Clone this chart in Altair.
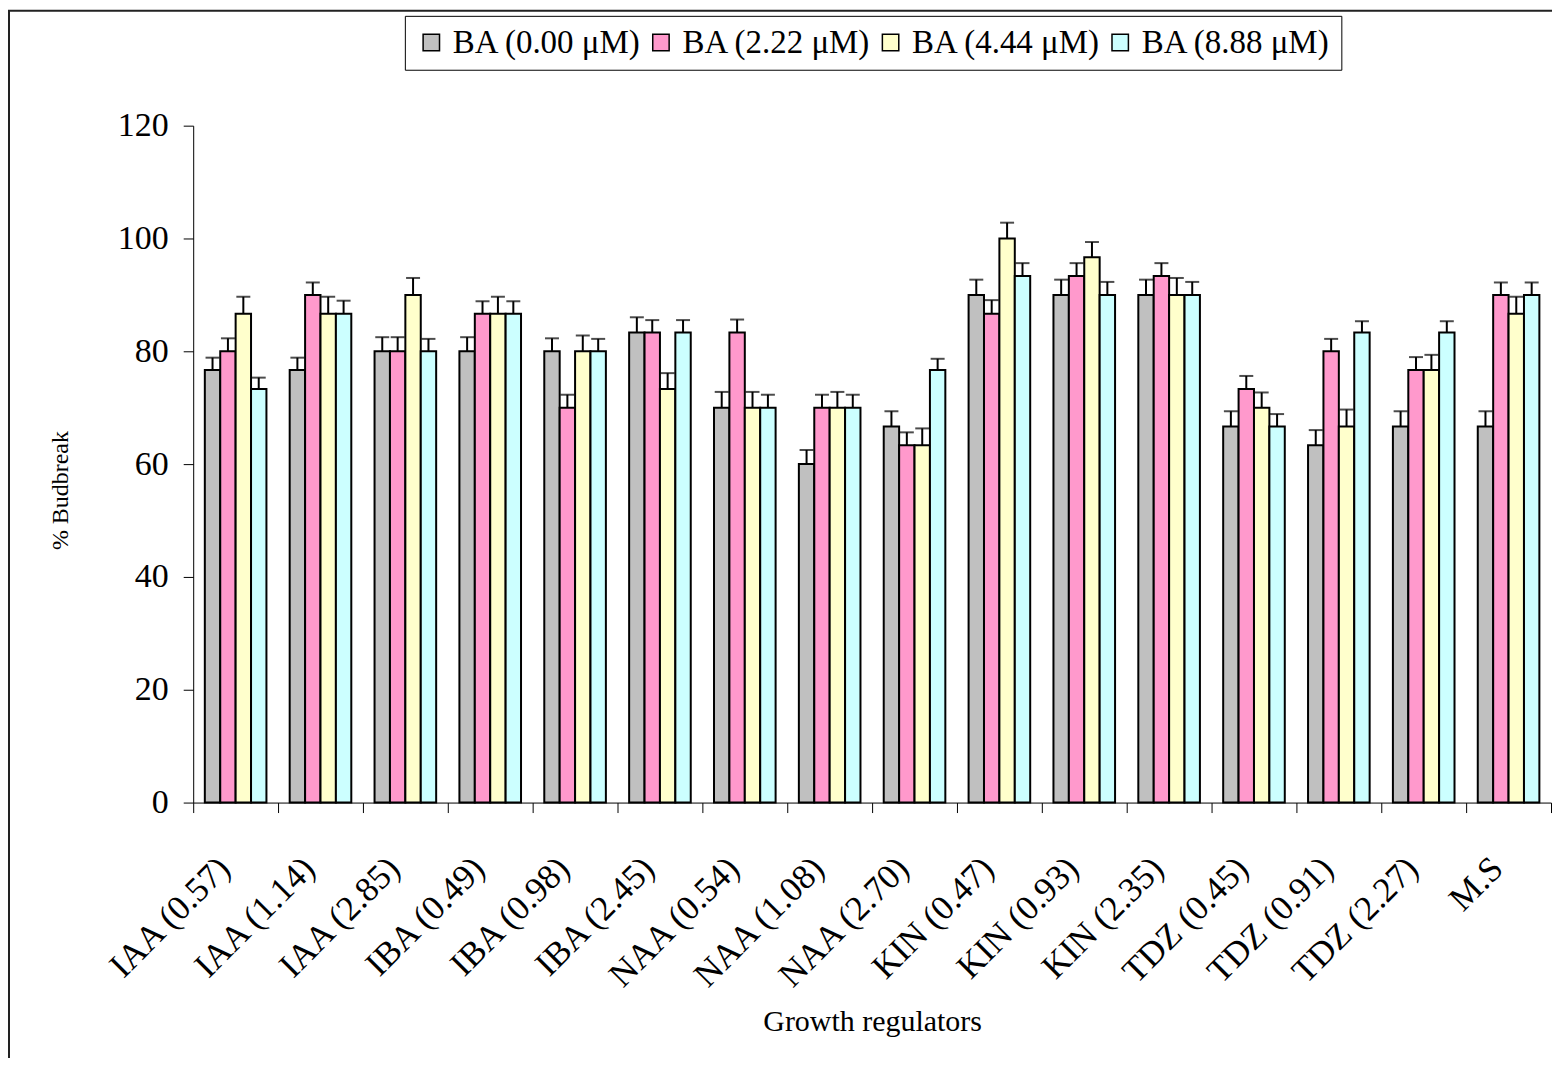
import altair as alt
import pandas as pd

categories = ["IAA (0.57)", "IAA (1.14)", "IAA (2.85)", "IBA (0.49)", "IBA (0.98)",
              "IBA (2.45)", "NAA (0.54)", "NAA (1.08)", "NAA (2.70)", "KIN (0.47)",
              "KIN (0.93)", "KIN (2.35)", "TDZ (0.45)", "TDZ (0.91)", "TDZ (2.27)", "M.S"]
series = ["BA (0.00 μM)", "BA (2.22 μM)", "BA (4.44 μM)", "BA (8.88 μM)"]

ba_000 = [76.67, 76.67, 80, 80, 80, 83.33, 70, 60, 66.67, 90, 90, 90, 66.67, 63.33, 66.67, 66.67]
ba_000_err = [2.2, 2.2, 2.5, 2.5, 2.3, 2.7, 2.8, 2.5, 2.7, 2.7, 2.7, 2.7, 2.7, 2.7, 2.7, 2.7]
ba_222 = [80, 90, 80, 86.67, 70, 83.33, 83.33, 70, 63.33, 86.67, 93.33, 93.33, 73.33, 80, 76.67, 90]
ba_222_err = [2.3, 2.2, 2.5, 2.2, 2.3, 2.2, 2.3, 2.3, 2.3, 2.4, 2.3, 2.3, 2.3, 2.2, 2.3, 2.2]
ba_444 = [86.67, 86.67, 90, 86.67, 80, 73.33, 70, 70, 63.33, 100, 96.67, 90, 70, 66.67, 76.67, 86.67]
ba_444_err = [3.0, 3.0, 3.0, 3.0, 2.8, 2.8, 2.8, 2.8, 3.0, 2.8, 2.7, 3.0, 2.7, 3.0, 2.7, 3.0]
ba_888 = [73.33, 86.67, 80, 86.67, 80, 83.33, 70, 70, 76.67, 93.33, 90, 90, 66.67, 83.33, 83.33, 90]
ba_888_err = [2.0, 2.3, 2.2, 2.2, 2.2, 2.2, 2.3, 2.3, 2.0, 2.3, 2.3, 2.3, 2.2, 2.0, 2.0, 2.2]

colors = ["#C0C0C0", "#FF99CC", "#FFFFCC", "#CCFFFF"]

rows = []
for s, vals, errs in zip(series, [ba_000, ba_222, ba_444, ba_888],
                         [ba_000_err, ba_222_err, ba_444_err, ba_888_err]):
    for c, v, e in zip(categories, vals, errs):
        rows.append({"cat": c, "series": s, "value": v, "err": e})
df = pd.DataFrame(rows)

W, H = 1360, 678
FONT = "Liberation Serif"

x_enc = alt.X(
    "cat:N", sort=categories, title="Growth regulators",
    scale=alt.Scale(paddingInner=0, paddingOuter=0),
    axis=alt.Axis(
        tickBand="extent", tickSize=10, tickColor="black", domainColor="black",
        labelAngle=-45, labelAlign="right", labelBaseline="top",
        labelFont=FONT, labelFontSize=35, labelColor="black", labelLimit=0,
        labelPadding=38, labelOffset=-24,
        titleFont=FONT, titleFontSize=30, titleFontWeight="normal", titleColor="black",
        titleBaseline="middle", titleY=219,
    ),
)
xoff = alt.XOffset("series:N", sort=series,
                   scale=alt.Scale(paddingInner=0, paddingOuter=0.755))

yaxis = alt.Axis(
    values=[0, 20, 40, 60, 80, 100, 120], grid=False, tickSize=10,
    tickColor="black", domainColor="black",
    labelFont=FONT, labelFontSize=34, labelColor="black", labelPadding=15,
    titleFont=FONT, titleFontSize=24, titleFontWeight="normal", titleColor="black",
    titleX=-133, titleY=365, titleBaseline="middle", titleAlign="center",
)
yscale = alt.Scale(domain=[0, 120], nice=False)

base = alt.Chart(df)

bars = base.mark_bar(stroke="black", strokeWidth=2).encode(
    x=x_enc,
    xOffset=xoff,
    y=alt.Y("value:Q", scale=yscale, axis=yaxis, title="% Budbreak"),
    color=alt.Color(
        "series:N", sort=series, title=None,
        scale=alt.Scale(domain=series, range=colors),
        legend=alt.Legend(
            orient="none", legendX=212, legendY=-110, direction="horizontal",
            symbolType="square", symbolSize=270, symbolStrokeColor="black",
            symbolStrokeWidth=1.5, labelFont=FONT, labelFontSize=33,
            labelColor="black", labelOffset=5, columnPadding=2, labelLimit=0,
            strokeColor="black", padding=10, fillColor="white",
        ),
    ),
)

err_rule = base.transform_calculate(top="datum.value + datum.err").mark_rule(
    color="black", strokeWidth=2
).encode(
    x=x_enc, xOffset=xoff,
    y=alt.Y("value:Q", scale=yscale, title="% Budbreak"),
    y2="top:Q",
)

err_cap = base.transform_calculate(top="datum.value + datum.err").mark_tick(
    color="black", thickness=2, size=14
).encode(
    x=x_enc, xOffset=xoff,
    y=alt.Y("top:Q", scale=yscale, title="% Budbreak"),
)

frame = alt.Chart(pd.DataFrame({"k": [0]})).mark_rect(
    fillOpacity=0, stroke="#222222", strokeWidth=2
).encode(
    x=alt.value(-184.5), x2=alt.value(W + 100),
    y=alt.value(-115), y2=alt.value(H + 400),
)

chart = alt.layer(frame, bars, err_rule, err_cap).properties(
    width=W, height=H,
    autosize=alt.AutoSizeParams(type="none"),
    padding={"left": 185.5, "top": 117, "right": 1, "bottom": 255},
    background="white",
).configure_view(strokeWidth=0)

chart.save("out.html", embed_options={"renderer": "svg", "actions": False})
